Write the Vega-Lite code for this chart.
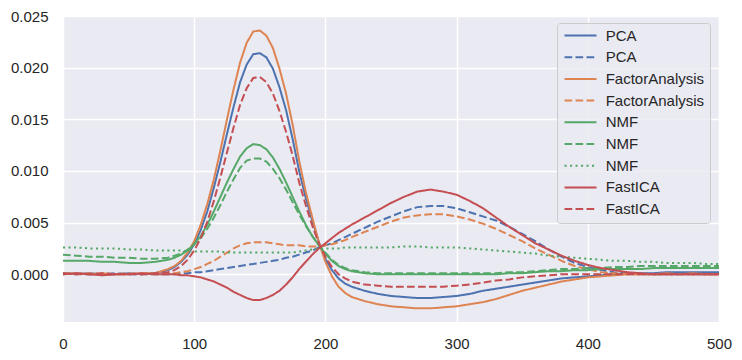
{
  "$schema": "https://vega.github.io/schema/vega-lite/v6.json",
  "width": 656,
  "height": 306,
  "autosize": "none",
  "padding": {"left": 63, "top": 16, "right": 23, "bottom": 38},
  "background": "white",
  "config": {
    "view": {"fill": "#EAEAF2", "stroke": null},
    "font": "Liberation Sans"
  },
  "data": {"values": [
    {"x":0,"PCA_1":0.0001,"PCA_2":0.0000,"FactorAnalysis_1":0.0000,"FactorAnalysis_2":0.0001,"NMF_1":0.0013,"NMF_2":0.0019,"NMF_3":0.0026,"FastICA_1":0.0000,"FastICA_2":0.0001},
    {"x":10,"PCA_1":0.0000,"PCA_2":0.0001,"FactorAnalysis_1":0.0001,"FactorAnalysis_2":0.0000,"NMF_1":0.0013,"NMF_2":0.0018,"NMF_3":0.0026,"FastICA_1":0.0001,"FastICA_2":0.0000},
    {"x":20,"PCA_1":0.0001,"PCA_2":0.0000,"FactorAnalysis_1":0.0000,"FactorAnalysis_2":0.0001,"NMF_1":0.0013,"NMF_2":0.0017,"NMF_3":0.0025,"FastICA_1":0.0000,"FastICA_2":0.0000},
    {"x":30,"PCA_1":0.0000,"PCA_2":0.0000,"FactorAnalysis_1":0.0001,"FactorAnalysis_2":0.0000,"NMF_1":0.0012,"NMF_2":0.0017,"NMF_3":0.0025,"FastICA_1":-0.0001,"FastICA_2":0.0001},
    {"x":40,"PCA_1":0.0000,"PCA_2":0.0001,"FactorAnalysis_1":0.0000,"FactorAnalysis_2":0.0000,"NMF_1":0.0012,"NMF_2":0.0016,"NMF_3":0.0025,"FastICA_1":0.0000,"FastICA_2":0.0000},
    {"x":50,"PCA_1":0.0001,"PCA_2":0.0000,"FactorAnalysis_1":0.0000,"FactorAnalysis_2":0.0001,"NMF_1":0.0011,"NMF_2":0.0016,"NMF_3":0.0024,"FastICA_1":0.0000,"FastICA_2":0.0000},
    {"x":60,"PCA_1":0.0000,"PCA_2":0.0000,"FactorAnalysis_1":0.0001,"FactorAnalysis_2":0.0000,"NMF_1":0.0011,"NMF_2":0.0015,"NMF_3":0.0024,"FastICA_1":0.0001,"FastICA_2":0.0000},
    {"x":70,"PCA_1":0.0001,"PCA_2":0.0000,"FactorAnalysis_1":0.0001,"FactorAnalysis_2":0.0000,"NMF_1":0.0012,"NMF_2":0.0015,"NMF_3":0.0023,"FastICA_1":0.0000,"FastICA_2":0.0001},
    {"x":80,"PCA_1":0.0004,"PCA_2":0.0000,"FactorAnalysis_1":0.0005,"FactorAnalysis_2":0.0000,"NMF_1":0.0014,"NMF_2":0.0016,"NMF_3":0.0023,"FastICA_1":0.0000,"FastICA_2":0.0002},
    {"x":85,"PCA_1":0.0007,"PCA_2":0.0000,"FactorAnalysis_1":0.0008,"FactorAnalysis_2":0.0001,"NMF_1":0.0016,"NMF_2":0.0018,"NMF_3":0.0023,"FastICA_1":0.0000,"FastICA_2":0.0004},
    {"x":90,"PCA_1":0.0012,"PCA_2":0.0001,"FactorAnalysis_1":0.0013,"FactorAnalysis_2":0.0002,"NMF_1":0.0019,"NMF_2":0.0020,"NMF_3":0.0023,"FastICA_1":-0.0001,"FastICA_2":0.0008},
    {"x":95,"PCA_1":0.0019,"PCA_2":0.0001,"FactorAnalysis_1":0.0021,"FactorAnalysis_2":0.0003,"NMF_1":0.0023,"NMF_2":0.0024,"NMF_3":0.0022,"FastICA_1":-0.0001,"FastICA_2":0.0014},
    {"x":100,"PCA_1":0.0029,"PCA_2":0.0002,"FactorAnalysis_1":0.0032,"FactorAnalysis_2":0.0005,"NMF_1":0.0029,"NMF_2":0.0029,"NMF_3":0.0022,"FastICA_1":-0.0002,"FastICA_2":0.0023},
    {"x":105,"PCA_1":0.0043,"PCA_2":0.0002,"FactorAnalysis_1":0.0048,"FactorAnalysis_2":0.0007,"NMF_1":0.0037,"NMF_2":0.0035,"NMF_3":0.0022,"FastICA_1":-0.0003,"FastICA_2":0.0035},
    {"x":110,"PCA_1":0.0061,"PCA_2":0.0003,"FactorAnalysis_1":0.0068,"FactorAnalysis_2":0.0010,"NMF_1":0.0048,"NMF_2":0.0044,"NMF_3":0.0022,"FastICA_1":-0.0005,"FastICA_2":0.0051},
    {"x":115,"PCA_1":0.0084,"PCA_2":0.0004,"FactorAnalysis_1":0.0092,"FactorAnalysis_2":0.0013,"NMF_1":0.0061,"NMF_2":0.0055,"NMF_3":0.0022,"FastICA_1":-0.0007,"FastICA_2":0.0071},
    {"x":120,"PCA_1":0.0109,"PCA_2":0.0005,"FactorAnalysis_1":0.0120,"FactorAnalysis_2":0.0017,"NMF_1":0.0075,"NMF_2":0.0067,"NMF_3":0.0022,"FastICA_1":-0.0010,"FastICA_2":0.0094},
    {"x":125,"PCA_1":0.0136,"PCA_2":0.0006,"FactorAnalysis_1":0.0150,"FactorAnalysis_2":0.0021,"NMF_1":0.0089,"NMF_2":0.0080,"NMF_3":0.0021,"FastICA_1":-0.0013,"FastICA_2":0.0118},
    {"x":130,"PCA_1":0.0162,"PCA_2":0.0007,"FactorAnalysis_1":0.0179,"FactorAnalysis_2":0.0025,"NMF_1":0.0102,"NMF_2":0.0092,"NMF_3":0.0021,"FastICA_1":-0.0017,"FastICA_2":0.0142},
    {"x":135,"PCA_1":0.0186,"PCA_2":0.0008,"FactorAnalysis_1":0.0205,"FactorAnalysis_2":0.0028,"NMF_1":0.0114,"NMF_2":0.0103,"NMF_3":0.0021,"FastICA_1":-0.0020,"FastICA_2":0.0164},
    {"x":140,"PCA_1":0.0203,"PCA_2":0.0009,"FactorAnalysis_1":0.0224,"FactorAnalysis_2":0.0030,"NMF_1":0.0122,"NMF_2":0.0110,"NMF_3":0.0021,"FastICA_1":-0.0023,"FastICA_2":0.0180},
    {"x":145,"PCA_1":0.0213,"PCA_2":0.0010,"FactorAnalysis_1":0.0235,"FactorAnalysis_2":0.0031,"NMF_1":0.0126,"NMF_2":0.0112,"NMF_3":0.0021,"FastICA_1":-0.0025,"FastICA_2":0.0190},
    {"x":150,"PCA_1":0.0214,"PCA_2":0.0011,"FactorAnalysis_1":0.0236,"FactorAnalysis_2":0.0031,"NMF_1":0.0125,"NMF_2":0.0112,"NMF_3":0.0021,"FastICA_1":-0.0025,"FastICA_2":0.0191},
    {"x":155,"PCA_1":0.0210,"PCA_2":0.0012,"FactorAnalysis_1":0.0231,"FactorAnalysis_2":0.0031,"NMF_1":0.0121,"NMF_2":0.0109,"NMF_3":0.0021,"FastICA_1":-0.0023,"FastICA_2":0.0186},
    {"x":160,"PCA_1":0.0199,"PCA_2":0.0013,"FactorAnalysis_1":0.0219,"FactorAnalysis_2":0.0030,"NMF_1":0.0113,"NMF_2":0.0102,"NMF_3":0.0021,"FastICA_1":-0.0020,"FastICA_2":0.0175},
    {"x":165,"PCA_1":0.0181,"PCA_2":0.0014,"FactorAnalysis_1":0.0199,"FactorAnalysis_2":0.0029,"NMF_1":0.0102,"NMF_2":0.0093,"NMF_3":0.0021,"FastICA_1":-0.0016,"FastICA_2":0.0158},
    {"x":170,"PCA_1":0.0159,"PCA_2":0.0016,"FactorAnalysis_1":0.0175,"FactorAnalysis_2":0.0028,"NMF_1":0.0089,"NMF_2":0.0082,"NMF_3":0.0021,"FastICA_1":-0.0010,"FastICA_2":0.0138},
    {"x":175,"PCA_1":0.0131,"PCA_2":0.0017,"FactorAnalysis_1":0.0145,"FactorAnalysis_2":0.0028,"NMF_1":0.0075,"NMF_2":0.0070,"NMF_3":0.0021,"FastICA_1":-0.0003,"FastICA_2":0.0115},
    {"x":180,"PCA_1":0.0100,"PCA_2":0.0019,"FactorAnalysis_1":0.0110,"FactorAnalysis_2":0.0028,"NMF_1":0.0061,"NMF_2":0.0058,"NMF_3":0.0022,"FastICA_1":0.0005,"FastICA_2":0.0089},
    {"x":185,"PCA_1":0.0074,"PCA_2":0.0021,"FactorAnalysis_1":0.0080,"FactorAnalysis_2":0.0027,"NMF_1":0.0048,"NMF_2":0.0047,"NMF_3":0.0023,"FastICA_1":0.0012,"FastICA_2":0.0067},
    {"x":190,"PCA_1":0.0052,"PCA_2":0.0023,"FactorAnalysis_1":0.0055,"FactorAnalysis_2":0.0027,"NMF_1":0.0037,"NMF_2":0.0037,"NMF_3":0.0024,"FastICA_1":0.0019,"FastICA_2":0.0047},
    {"x":195,"PCA_1":0.0031,"PCA_2":0.0026,"FactorAnalysis_1":0.0031,"FactorAnalysis_2":0.0027,"NMF_1":0.0028,"NMF_2":0.0028,"NMF_3":0.0025,"FastICA_1":0.0025,"FastICA_2":0.0030},
    {"x":200,"PCA_1":0.0015,"PCA_2":0.0028,"FactorAnalysis_1":0.0012,"FactorAnalysis_2":0.0028,"NMF_1":0.0020,"NMF_2":0.0021,"NMF_3":0.0025,"FastICA_1":0.0030,"FastICA_2":0.0017},
    {"x":205,"PCA_1":0.0004,"PCA_2":0.0030,"FactorAnalysis_1":-0.0002,"FactorAnalysis_2":0.0029,"NMF_1":0.0013,"NMF_2":0.0014,"NMF_3":0.0025,"FastICA_1":0.0035,"FastICA_2":0.0007},
    {"x":210,"PCA_1":-0.0004,"PCA_2":0.0033,"FactorAnalysis_1":-0.0012,"FactorAnalysis_2":0.0031,"NMF_1":0.0008,"NMF_2":0.0009,"NMF_3":0.0025,"FastICA_1":0.0040,"FastICA_2":0.0000},
    {"x":215,"PCA_1":-0.0009,"PCA_2":0.0036,"FactorAnalysis_1":-0.0018,"FactorAnalysis_2":0.0033,"NMF_1":0.0005,"NMF_2":0.0006,"NMF_3":0.0026,"FastICA_1":0.0044,"FastICA_2":-0.0004},
    {"x":220,"PCA_1":-0.0012,"PCA_2":0.0039,"FactorAnalysis_1":-0.0022,"FactorAnalysis_2":0.0036,"NMF_1":0.0003,"NMF_2":0.0004,"NMF_3":0.0026,"FastICA_1":0.0048,"FastICA_2":-0.0007},
    {"x":230,"PCA_1":-0.0016,"PCA_2":0.0045,"FactorAnalysis_1":-0.0026,"FactorAnalysis_2":0.0041,"NMF_1":0.0001,"NMF_2":0.0002,"NMF_3":0.0026,"FastICA_1":0.0055,"FastICA_2":-0.0010},
    {"x":240,"PCA_1":-0.0019,"PCA_2":0.0051,"FactorAnalysis_1":-0.0029,"FactorAnalysis_2":0.0046,"NMF_1":0.0000,"NMF_2":0.0001,"NMF_3":0.0026,"FastICA_1":0.0062,"FastICA_2":-0.0011},
    {"x":250,"PCA_1":-0.0021,"PCA_2":0.0056,"FactorAnalysis_1":-0.0031,"FactorAnalysis_2":0.0051,"NMF_1":0.0000,"NMF_2":0.0001,"NMF_3":0.0026,"FastICA_1":0.0069,"FastICA_2":-0.0012},
    {"x":260,"PCA_1":-0.0022,"PCA_2":0.0061,"FactorAnalysis_1":-0.0032,"FactorAnalysis_2":0.0055,"NMF_1":0.0000,"NMF_2":0.0001,"NMF_3":0.0027,"FastICA_1":0.0075,"FastICA_2":-0.0012},
    {"x":270,"PCA_1":-0.0023,"PCA_2":0.0065,"FactorAnalysis_1":-0.0033,"FactorAnalysis_2":0.0057,"NMF_1":0.0000,"NMF_2":0.0001,"NMF_3":0.0027,"FastICA_1":0.0080,"FastICA_2":-0.0012},
    {"x":280,"PCA_1":-0.0023,"PCA_2":0.0066,"FactorAnalysis_1":-0.0033,"FactorAnalysis_2":0.0058,"NMF_1":0.0000,"NMF_2":0.0001,"NMF_3":0.0026,"FastICA_1":0.0082,"FastICA_2":-0.0012},
    {"x":290,"PCA_1":-0.0022,"PCA_2":0.0066,"FactorAnalysis_1":-0.0032,"FactorAnalysis_2":0.0058,"NMF_1":0.0000,"NMF_2":0.0001,"NMF_3":0.0026,"FastICA_1":0.0080,"FastICA_2":-0.0012},
    {"x":300,"PCA_1":-0.0021,"PCA_2":0.0064,"FactorAnalysis_1":-0.0031,"FactorAnalysis_2":0.0056,"NMF_1":0.0000,"NMF_2":0.0001,"NMF_3":0.0026,"FastICA_1":0.0077,"FastICA_2":-0.0011},
    {"x":310,"PCA_1":-0.0019,"PCA_2":0.0060,"FactorAnalysis_1":-0.0029,"FactorAnalysis_2":0.0053,"NMF_1":0.0000,"NMF_2":0.0001,"NMF_3":0.0025,"FastICA_1":0.0071,"FastICA_2":-0.0010},
    {"x":320,"PCA_1":-0.0016,"PCA_2":0.0056,"FactorAnalysis_1":-0.0027,"FactorAnalysis_2":0.0049,"NMF_1":0.0000,"NMF_2":0.0001,"NMF_3":0.0024,"FastICA_1":0.0064,"FastICA_2":-0.0008},
    {"x":330,"PCA_1":-0.0014,"PCA_2":0.0052,"FactorAnalysis_1":-0.0024,"FactorAnalysis_2":0.0044,"NMF_1":0.0000,"NMF_2":0.0001,"NMF_3":0.0023,"FastICA_1":0.0055,"FastICA_2":-0.0006},
    {"x":340,"PCA_1":-0.0012,"PCA_2":0.0046,"FactorAnalysis_1":-0.0020,"FactorAnalysis_2":0.0038,"NMF_1":0.0001,"NMF_2":0.0002,"NMF_3":0.0022,"FastICA_1":0.0046,"FastICA_2":-0.0005},
    {"x":350,"PCA_1":-0.0010,"PCA_2":0.0039,"FactorAnalysis_1":-0.0016,"FactorAnalysis_2":0.0032,"NMF_1":0.0001,"NMF_2":0.0002,"NMF_3":0.0021,"FastICA_1":0.0038,"FastICA_2":-0.0003},
    {"x":360,"PCA_1":-0.0008,"PCA_2":0.0032,"FactorAnalysis_1":-0.0013,"FactorAnalysis_2":0.0025,"NMF_1":0.0002,"NMF_2":0.0003,"NMF_3":0.0020,"FastICA_1":0.0030,"FastICA_2":-0.0002},
    {"x":370,"PCA_1":-0.0006,"PCA_2":0.0024,"FactorAnalysis_1":-0.0010,"FactorAnalysis_2":0.0019,"NMF_1":0.0003,"NMF_2":0.0004,"NMF_3":0.0018,"FastICA_1":0.0024,"FastICA_2":-0.0001},
    {"x":380,"PCA_1":-0.0004,"PCA_2":0.0017,"FactorAnalysis_1":-0.0007,"FactorAnalysis_2":0.0013,"NMF_1":0.0003,"NMF_2":0.0005,"NMF_3":0.0017,"FastICA_1":0.0018,"FastICA_2":0.0000},
    {"x":390,"PCA_1":-0.0003,"PCA_2":0.0011,"FactorAnalysis_1":-0.0005,"FactorAnalysis_2":0.0008,"NMF_1":0.0004,"NMF_2":0.0005,"NMF_3":0.0016,"FastICA_1":0.0013,"FastICA_2":0.0000},
    {"x":400,"PCA_1":-0.0002,"PCA_2":0.0007,"FactorAnalysis_1":-0.0003,"FactorAnalysis_2":0.0005,"NMF_1":0.0004,"NMF_2":0.0006,"NMF_3":0.0015,"FastICA_1":0.0009,"FastICA_2":0.0000},
    {"x":410,"PCA_1":-0.0001,"PCA_2":0.0004,"FactorAnalysis_1":-0.0002,"FactorAnalysis_2":0.0002,"NMF_1":0.0005,"NMF_2":0.0006,"NMF_3":0.0014,"FastICA_1":0.0006,"FastICA_2":0.0000},
    {"x":420,"PCA_1":0.0000,"PCA_2":0.0002,"FactorAnalysis_1":-0.0001,"FactorAnalysis_2":0.0001,"NMF_1":0.0005,"NMF_2":0.0007,"NMF_3":0.0013,"FastICA_1":0.0004,"FastICA_2":0.0000},
    {"x":430,"PCA_1":0.0001,"PCA_2":0.0001,"FactorAnalysis_1":0.0000,"FactorAnalysis_2":0.0000,"NMF_1":0.0005,"NMF_2":0.0007,"NMF_3":0.0013,"FastICA_1":0.0002,"FastICA_2":0.0000},
    {"x":440,"PCA_1":0.0001,"PCA_2":0.0000,"FactorAnalysis_1":0.0000,"FactorAnalysis_2":0.0000,"NMF_1":0.0005,"NMF_2":0.0008,"NMF_3":0.0012,"FastICA_1":0.0001,"FastICA_2":0.0000},
    {"x":450,"PCA_1":0.0001,"PCA_2":0.0000,"FactorAnalysis_1":0.0000,"FactorAnalysis_2":0.0000,"NMF_1":0.0006,"NMF_2":0.0008,"NMF_3":0.0012,"FastICA_1":0.0000,"FastICA_2":0.0000},
    {"x":460,"PCA_1":0.0002,"PCA_2":0.0000,"FactorAnalysis_1":0.0001,"FactorAnalysis_2":0.0000,"NMF_1":0.0006,"NMF_2":0.0008,"NMF_3":0.0011,"FastICA_1":0.0000,"FastICA_2":0.0000},
    {"x":470,"PCA_1":0.0002,"PCA_2":0.0000,"FactorAnalysis_1":0.0000,"FactorAnalysis_2":0.0000,"NMF_1":0.0006,"NMF_2":0.0008,"NMF_3":0.0011,"FastICA_1":0.0000,"FastICA_2":0.0000},
    {"x":480,"PCA_1":0.0002,"PCA_2":0.0000,"FactorAnalysis_1":0.0001,"FactorAnalysis_2":0.0000,"NMF_1":0.0006,"NMF_2":0.0008,"NMF_3":0.0011,"FastICA_1":0.0000,"FastICA_2":0.0000},
    {"x":490,"PCA_1":0.0002,"PCA_2":0.0000,"FactorAnalysis_1":0.0000,"FactorAnalysis_2":0.0000,"NMF_1":0.0006,"NMF_2":0.0008,"NMF_3":0.0010,"FastICA_1":0.0000,"FastICA_2":0.0000},
    {"x":500,"PCA_1":0.0002,"PCA_2":0.0000,"FactorAnalysis_1":0.0000,"FactorAnalysis_2":0.0000,"NMF_1":0.0006,"NMF_2":0.0008,"NMF_3":0.0010,"FastICA_1":0.0000,"FastICA_2":0.0000}
  ]},
  "transform": [
    {"fold": ["PCA_1","PCA_2","FactorAnalysis_1","FactorAnalysis_2","NMF_1","NMF_2","NMF_3","FastICA_1","FastICA_2"], "as": ["series","value"]}
  ],
  "mark": {"type": "line", "strokeWidth": 2, "clip": true},
  "encoding": {
    "x": {
      "field": "x", "type": "quantitative",
      "scale": {"domain": [0, 500], "nice": false},
      "axis": {"values": [0,100,200,300,400,500], "title": null, "grid": true, "gridColor": "white", "gridWidth": 1.5, "domain": false, "ticks": false, "tickSize": 0, "labelFlush": false, "labelPadding": 14, "labelFontSize": 15, "labelColor": "#262626", "labelFont": "Liberation Sans"}
    },
    "y": {
      "field": "value", "type": "quantitative",
      "scale": {"domain": [-0.00462, 0.025], "nice": false, "zero": false},
      "axis": {"values": [0,0.005,0.01,0.015,0.02,0.025], "format": ".3f", "title": null, "grid": true, "gridColor": "white", "gridWidth": 1.5, "domain": false, "ticks": false, "tickSize": 0, "labelFlush": false, "labelPadding": 15, "labelFontSize": 15, "labelColor": "#262626", "labelFont": "Liberation Sans"}
    },
    "color": {
      "field": "series", "type": "nominal",
      "scale": {
        "domain": ["PCA_1","PCA_2","FactorAnalysis_1","FactorAnalysis_2","NMF_1","NMF_2","NMF_3","FastICA_1","FastICA_2"],
        "range": ["#4C72B0","#4C72B0","#DD8452","#DD8452","#55A868","#55A868","#55A868","#C44E52","#C44E52"]
      },
      "legend": {"title": null, "orient": "none", "legendX": 494, "legendY": 7, "labelExpr": "split(datum.label, '_')[0]", "symbolType": "M-1,0H5.4", "symbolSize": 100, "symbolStrokeWidth": 2, "labelFontSize": 15, "labelFont": "Liberation Sans", "labelColor": "#262626", "labelOffset": 28.7, "rowPadding": 5.7, "padding": 5, "fillColor": "rgba(234,234,242,0.8)", "strokeColor": "#CCCCCC", "cornerRadius": 3, "labelLimit": 200}
    },
    "strokeDash": {
      "field": "series", "type": "nominal",
      "scale": {
        "domain": ["PCA_1","PCA_2","FactorAnalysis_1","FactorAnalysis_2","NMF_1","NMF_2","NMF_3","FastICA_1","FastICA_2"],
        "range": [[1,0],[7.7,3.3],[1,0],[7.7,3.3],[1,0],[7.7,3.3],[2.1,3.4],[1,0],[7.7,3.3]]
      },
      "legend": {"title": null, "orient": "none", "legendX": 494, "legendY": 7, "labelExpr": "split(datum.label, '_')[0]", "symbolType": "M-1,0H5.4", "symbolSize": 100, "symbolStrokeWidth": 2, "labelFontSize": 15, "labelFont": "Liberation Sans", "labelColor": "#262626", "labelOffset": 28.7, "rowPadding": 5.7, "padding": 5, "fillColor": "rgba(234,234,242,0.8)", "strokeColor": "#CCCCCC", "cornerRadius": 3, "labelLimit": 200}
    }
  }
}
